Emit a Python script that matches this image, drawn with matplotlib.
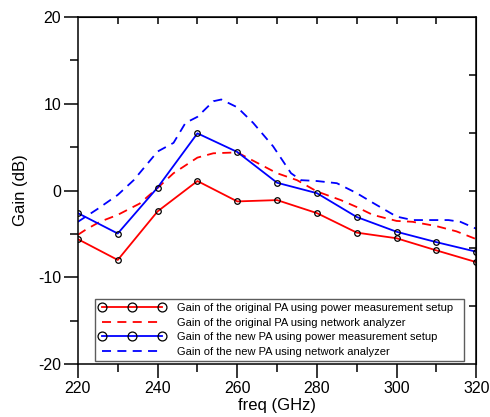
import matplotlib.pyplot as plt
import numpy as np

plt.rcParams['font.family'] = ['Liberation Sans', 'DejaVu Sans']
plt.rcParams['axes.unicode_minus'] = False

# measured points (power measurement setup)
freq_pm = [220, 230, 240, 250, 260, 270, 280, 290, 300, 310, 320]
gain_orig_pm = [-5.6, -8.0, -2.4, 1.1, -1.25, -1.1, -2.6, -4.85, -5.5, -6.9, -8.25]
gain_new_pm = [-2.6, -4.95, 0.35, 6.6, 4.45, 0.9, -0.3, -3.05, -4.75, -5.95, -7.05]

# network analyzer traces
freq_na_orig = [220, 222, 225.5, 230, 235.5, 240, 244, 250, 254, 260, 265, 270, 275,
                280, 286, 290, 294, 300, 304, 310, 315, 320]
gain_orig_na = [-5.1, -4.5, -3.6, -2.8, -1.5, 0.3, 2.0, 3.8, 4.3, 4.4, 3.2, 2.0, 1.2,
                -0.1, -1.1, -1.9, -2.8, -3.5, -3.6, -4.1, -4.7, -5.6]
freq_na_new = [220, 222, 225, 230, 234, 240, 244, 247, 250, 254, 256, 260, 264, 269,
               273.5, 276, 280, 285, 290, 294, 300, 304, 310, 313, 316, 320]
gain_new_na = [-3.6, -3.0, -2.1, -0.5, 1.2, 4.5, 5.5, 7.8, 8.5, 10.3, 10.5, 9.6, 7.8,
               5.1, 2.0, 1.2, 1.1, 0.85, -0.3, -1.4, -3.0, -3.4, -3.4, -3.4, -3.6, -4.4]

labels = ['Gain of the original PA using power measurement setup',
          'Gain of the original PA using network analyzer',
          'Gain of the new PA using power measurement setup',
          'Gain of the new PA using network analyzer']

fig = plt.figure(figsize=(4.9, 4.17), dpi=100)
ax = fig.add_axes([0.159, 0.127, 0.813, 0.832])

ax.plot(freq_pm, gain_orig_pm, color='red', lw=1.3, marker='o', ms=4,
        mfc='none', mec='black', mew=0.9, label=labels[0])
ax.plot(freq_na_orig, gain_orig_na, color='red', lw=1.3, ls=(0, (5, 3.5)),
        label=labels[1])
ax.plot(freq_pm, gain_new_pm, color='blue', lw=1.3, marker='o', ms=4,
        mfc='none', mec='black', mew=0.9, label=labels[2])
ax.plot(freq_na_new, gain_new_na, color='blue', lw=1.3, ls=(0, (5, 3.5)),
        label=labels[3])

ax.set_xlim(220, 320)
ax.set_ylim(-20, 20)
ax.set_xticks(np.arange(220, 321, 20))
ax.set_xticks(np.arange(230, 320, 20), minor=True)
ax.set_yticks(np.arange(-20, 21, 10))
ax.set_yticks(np.arange(-15, 20, 10), minor=True)
ax.tick_params(which='major', direction='out', length=10, width=1.1,
               labelsize=11.5, pad=2)
ax.tick_params(which='minor', direction='out', length=5.5, width=1.1)
for s in ax.spines.values():
    s.set_linewidth(1.1)

top = ax.secondary_xaxis('top')
top.set_xticks(np.arange(230, 320, 10))
top.tick_params(direction='in', length=5, width=1.1, labeltop=False)
right = ax.secondary_yaxis('right')
right.set_yticks(np.arange(-20, 21, 20 / 3)[1:-1])
right.tick_params(direction='in', length=5, width=1.1, labelright=False)

ax.set_xlabel('freq (GHz)', fontsize=12, labelpad=2)
ax.set_ylabel('Gain (dB)', fontsize=12, labelpad=7)

leg = ax.legend(loc='lower left', bbox_to_anchor=(0.043, 0.009, 0.927, 0.178),
                mode='expand', fontsize=8, handlelength=6.0, handletextpad=1.0,
                numpoints=3, markerscale=1.6, frameon=True, fancybox=False,
                borderpad=0.35, labelspacing=0.42, borderaxespad=0)
leg.get_frame().set_edgecolor('#333333')
leg.get_frame().set_linewidth(1.0)

fig.savefig('out.png', dpi=100)
